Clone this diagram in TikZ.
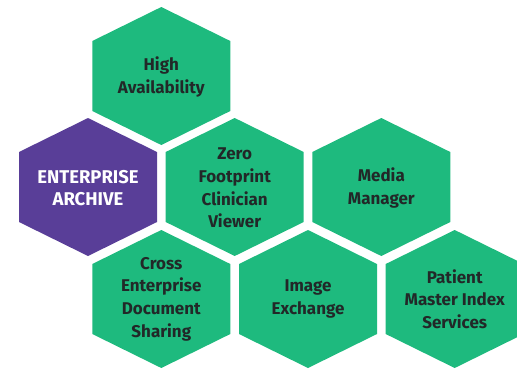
\documentclass[tikz,border=0pt]{standalone}
\usepackage{fontspec}
\setmainfont{Fira Sans}
\usepackage{tikz}

\definecolor{cellgreen}{RGB}{30,186,126}
\definecolor{cellpurple}{RGB}{89,62,152}
\definecolor{celltext}{RGB}{34,40,40}

\begin{document}
\begin{tikzpicture}[x=1pt, y=-1pt,
        hexcell/.pic={\fill[pic actions] (0,-69) -- (69,-35) -- (69,35) -- (0,69) -- (-69,35) -- (-69,-35) -- cycle;},
        celllabel/.style={align=center, text=celltext, font=\fontsize{17}{22.6}\selectfont\bfseries}]
        \useasboundingbox (0,0) rectangle (517,368);

        % Top cell
        \pic[fill=cellgreen] at (161.3,76) {hexcell};
        \node[celllabel] (avail) at (161.3,77) {High\\Availability};

        % Middle row, the archive on the left
        \pic[fill=cellpurple] at (88,187) {hexcell};
        \node[celllabel, text=white, font=\fontsize{18.5}{22.6}\selectfont\bfseries] (archive) at (88,188) {ENTERPRISE\\ARCHIVE};
        \pic[fill=cellgreen] at (234.7,187) {hexcell};
        \node[celllabel] (viewer) at (234.7,188) {Zero\\Footprint\\Clinician\\Viewer};
        \pic[fill=cellgreen] at (381.3,187) {hexcell};
        \node[celllabel] (media) at (381.3,188) {Media\\Manager};

        % Bottom row
        \pic[fill=cellgreen] at (161.3,299) {hexcell};
        \node[celllabel] (sharing) at (161.3,299) {Cross\\Enterprise\\Document\\Sharing};
        \pic[fill=cellgreen] at (308,299) {hexcell};
        \node[celllabel] (exchange) at (308,299) {Image\\Exchange};
        \pic[fill=cellgreen] at (454.7,299) {hexcell};
        \node[celllabel] (patient) at (454.7,299) {Patient\\Master Index\\Services};
    \end{tikzpicture}
\end{document}
